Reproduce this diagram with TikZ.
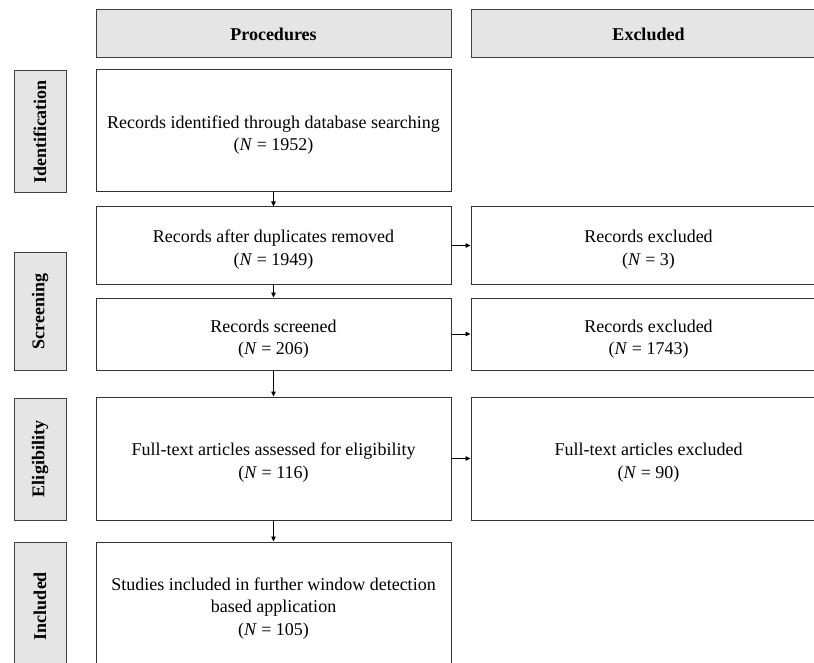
\documentclass[tikz,border=0pt]{standalone}
\usepackage{fontspec}
\setmainfont{Liberation Serif}
\usetikzlibrary{arrows.meta}
\newcommand{\topgap}[1][21pt]{\rule{0pt}{#1}}
\begin{document}
\begin{tikzpicture}[x=1pt,y=-1pt,
  box/.style={draw=black!80, line width=1pt, fill=white, inner sep=0pt, align=center,
              font=\fontsize{18}{22.5}\selectfont, minimum width=355pt},
  hdr/.style={draw=black!75, line width=1pt, fill=black!10, inner sep=0pt,
              font=\fontsize{18}{22}\selectfont\bfseries, minimum width=355pt, minimum height=48pt},
  side/.style={draw=black!75, line width=1pt, fill=black!10, inner sep=0pt, rotate=90,
               font=\fontsize{18}{22}\selectfont\bfseries, minimum height=52pt},
  arr/.style={-{Triangle[length=5pt,width=4.5pt]}, line width=0.8pt, black}]
\useasboundingbox (0,0) rectangle (814,663);
\clip (0,0) rectangle (814,663);
% headers
\node[hdr] (hp) at (273.5,34) {Procedures};
\node[hdr] (he) at (648.5,34) {Excluded};
% side labels
\node[side, minimum width=122pt] (s1) at (40,132) {Identification};
\node[side, minimum width=117pt] (s2) at (40,311.5) {Screening};
\node[side, minimum width=122pt] (s3) at (40,459) {Eligibility};
\node[side, minimum width=128pt] (s4) at (40,606) {Included};
% procedure boxes
\node[box, minimum height=122pt] (b1) at (273.5,131) {\topgap Records identified through database searching\\(\textit{N} = 1952)};
\node[box, minimum height=77pt] (b2) at (273.5,245.5) {\topgap Records after duplicates removed\\(\textit{N} = 1949)};
\node[box, minimum height=72pt] (b3) at (273.5,334) {\topgap[23pt]Records screened\\(\textit{N} = 206)};
\node[box, minimum height=123pt] (b4) at (273.5,458.5) {\topgap Full-text articles assessed for eligibility\\(\textit{N} = 116)};
\node[box, minimum height=128pt] (b5) at (273.5,606) {\topgap[17pt]Studies included in further window detection\\based application\\(\textit{N} = 105)};
% excluded boxes
\node[box, minimum height=77pt] (r2) at (648.5,245.5) {\topgap Records excluded\\(\textit{N} = 3)};
\node[box, minimum height=72pt] (r3) at (648.5,334) {\topgap[23pt]Records excluded\\(\textit{N} = 1743)};
\node[box, minimum height=123pt] (r4) at (648.5,458.5) {\topgap Full-text articles excluded\\(\textit{N} = 90)};
% arrows
\draw[arr] (b1.south) -- (b2.north);
\draw[arr] (b2.south) -- (b3.north);
\draw[arr] (b3.south) -- (b4.north);
\draw[arr] (b4.south) -- (b5.north);
\draw[arr] (b2.east) -- (r2.west);
\draw[arr] (b3.east) -- (r3.west);
\draw[arr] (b4.east) -- (r4.west);
\end{tikzpicture}
\end{document}
